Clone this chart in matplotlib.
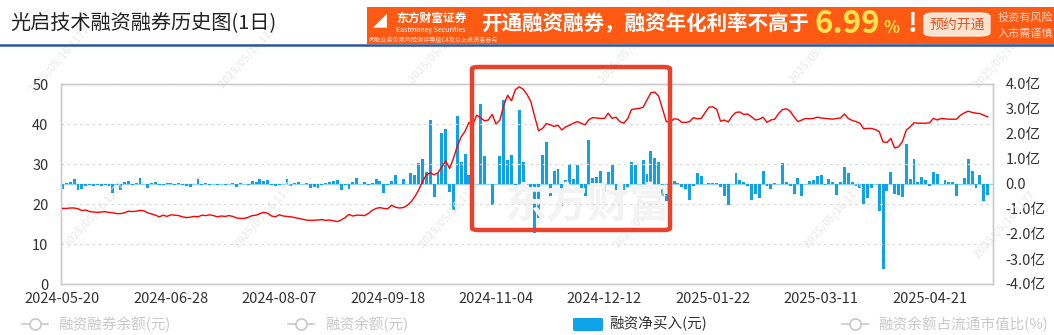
import matplotlib
matplotlib.use('Agg')
import matplotlib.pyplot as plt
from matplotlib.patches import FancyBboxPatch, Rectangle
from matplotlib.lines import Line2D

plt.rcParams['font.family'] = ['Noto Sans CJK SC', 'DejaVu Sans']

# x axis labels (every 28 trading days)
tick_dates = ['2024-05-20', '2024-06-28', '2024-08-07', '2024-09-18', '2024-11-04',
              '2024-12-12', '2025-01-22', '2025-03-11', '2025-04-21']
tick_step = 28

# 融资净买入, 亿元 (right axis)
net_buy = [-0.2, 0.05, 0.08, 0.18, -0.25, -0.2, -0.1, -0.05, -0.08, -0.05,
           -0.1, -0.05, -0.1, -0.35, -0.05, -0.25, 0.08, 0.12, -0.05, 0.05,
           0.25, 0.0, -0.15, 0.03, 0.08, -0.03, -0.03, 0.02, 0.05, -0.05,
           0.04, -0.05, -0.08, -0.12, 0.0, 0.2, -0.05, 0.05, -0.03, -0.02,
           -0.03, -0.02, -0.05, 0.0, 0.03, -0.12, 0.04, -0.02, -0.03, 0.1,
           0.08, 0.18, 0.12, 0.15, -0.05, -0.1, -0.03, 0.0, 0.2, -0.08,
           0.05, 0.08, -0.02, 0.02, -0.18, -0.12, -0.15, -0.05, 0.03, 0.08,
           0.1, 0.15, -0.25, -0.05, -0.22, 0.08, 0.25, 0.0, 0.08, -0.05,
           0.05,
           0.2, 0.1, -0.35, -0.05, 0.1, 0.35, 0.0, 0.2, 0.0, 0.42,
           0.37, 0.85, 1.0, 0.47, 2.55, -0.52, 0.45, 2.05, 2.2, -0.32,
           -1.05, 2.7, 0.87, 1.2, 0.37, 1.4, 0.0, 3.2, 1.13, 0.0,
           -0.85, 0.0, 1.13, 3.37, 0.97, 1.17, -0.03, 2.97, 0.87, 0.0,
           -0.13, -1.98, -1.36, 1.15, 1.68, -0.5, 0.53, 0.61, -0.9, 0.15,
           0.81, 0.21, 0.77, -0.27, -0.5, 1.75, 0.23, 0.27, 0.53, -0.31,
           0.48, 0.75, -0.45, -0.16, -0.27, -0.12, 0.88, 0.77, 0.0, 0.97,
           0.4, 1.31, 1.04, 0.88, -0.5, -0.7, 0.0, 0.13, 0.04, -0.13,
           -0.22, -0.65, -0.1, 0.44, 0.31, 0.0, 0.02, 0.02, 0.04, -0.12,
           -0.5, -0.85, 0.0, 0.43, 0.15, 0.07, -0.1, -0.65, -0.42, -0.55,
           0.52, -0.1, -0.22, 0.02, 0.0, 0.85, 0.08, -0.1, -0.4, 0.22,
           -0.47, 0.0, 0.13, 0.17, 0.3, 0.36, -0.04, 0.18, 0.08, -0.45,
           0.07, 0.66, 0.44, 0.09, -0.09, -0.16, -0.8, -0.55, -0.16, 0.0,
           -1.08, -3.4, -0.29, 0.49, -0.4, -0.45, -0.51, 1.58, 0.2, 1.0,
           0.07, 0.28, 0.14, -0.09, 0.47, 0.39, 0.0, 0.17, 0.07, 0.07,
           -0.49, 0.0, 0.22, 1.0, 0.53, -0.17, 0.34, -0.68, -0.43]

# red line, left axis
balance = [18.9, 18.9, 19.0, 19.0, 18.8, 18.35, 18.5, 18.1, 18.0, 17.9,
           18.0, 18.1, 17.9, 17.8, 17.6, 17.6, 17.8, 18.2, 18.1, 18.2,
           18.4, 18.3, 17.8, 17.5, 17.2, 16.8, 17.2, 16.9, 17.3, 17.2,
           17.1, 16.8, 16.6, 16.7, 16.9, 16.8, 17.2, 17.1, 17.3, 17.1,
           16.8, 17.0, 16.9, 17.1, 16.9, 16.5, 16.4, 16.4, 16.7, 17.1,
           17.2, 17.6, 17.9, 17.7, 17.0, 16.8, 17.3, 17.0, 16.9, 16.8,
           16.6, 16.4, 16.2, 16.0, 15.9, 15.95, 16.0, 16.1, 15.9, 16.0,
           15.8, 15.6, 16.0, 16.6, 17.4, 17.0, 17.2, 17.2, 17.1, 17.6,
           18.4,
           18.9, 19.1, 18.9, 18.8, 19.7, 19.2, 19.0, 19.1, 19.6, 20.5,
           21.8, 23.5, 25.6, 27.3, 27.8, 27.3, 27.8, 29.3, 30.8, 28.9,
           31.4, 34.5, 36.8, 38.2, 40.4, 39.8, 42.2, 41.6, 40.8, 41.0,
           42.4, 40.0, 41.0, 44.7, 47.2, 45.8, 48.6, 49.3, 48.7, 47.4,
           45.6, 41.8, 38.3, 38.9, 40.1, 39.8, 39.4, 39.7, 38.5, 39.3,
           39.7, 40.2, 40.6, 40.2, 39.8, 41.1, 41.6, 41.5, 41.4, 41.4,
           42.7, 41.4, 41.7, 40.6, 40.2, 41.3, 43.6, 43.8, 43.9, 44.2,
           46.0, 47.8, 48.0, 47.0, 43.8, 40.6, 40.5, 41.3, 41.2, 40.4,
           40.4, 40.6, 41.6, 41.3, 41.4, 42.8, 44.2, 44.3, 43.7, 40.7,
           41.0, 40.5, 42.0, 42.9, 43.0, 42.4, 42.5, 41.8, 41.0, 41.2,
           41.7, 40.4, 41.0, 41.2, 42.6, 43.6, 43.8, 43.2, 41.8, 40.6,
           41.0, 41.4, 41.3, 41.4, 41.7, 41.5, 41.4, 41.3, 41.2, 41.4,
           41.5, 42.5, 41.4, 40.9, 40.6, 40.2, 38.8, 38.9, 38.9, 38.6,
           38.1, 35.5, 35.4, 36.4, 34.0, 34.3, 35.6, 38.5, 39.3, 40.3,
           40.2, 40.2, 40.2, 40.3, 41.4, 41.0, 41.4, 41.3, 41.2, 41.2,
           41.2, 42.2, 42.8, 43.2, 42.9, 42.7, 42.6, 42.2, 41.8]

left_ticks = [0, 10, 20, 30, 40, 50]
right_ticks = [4, 3, 2, 1, 0, -1, -2, -3, -4]

W, H = 1054, 335
fig = plt.figure(figsize=(W / 100, H / 100), dpi=100)


def fx(px):
    return px / W


def fy(py):
    return 1 - py / H


# header
fig.text(fx(10), fy(23), '光启技术融资融券历史图(1日)', fontsize=14.5, color='#222222',
         va='center', ha='left')
fig.add_artist(Line2D([0, 1], [fy(44.5), fy(44.5)], color='#2f5597', lw=1.8,
                      transform=fig.transFigure))

# ad banner
fig.add_artist(Rectangle((fx(367), fy(44)), fx(1054 - 367), 37 / H, color='#ff5a14',
                         transform=fig.transFigure, lw=0))
fig.text(fx(373), fy(21), '◢', fontsize=10, color='white', va='center')
fig.text(fx(396), fy(18), '东方财富证券', fontsize=8.5, color='white', va='center', fontweight='bold')
fig.text(fx(396), fy(30), 'Eastmoney Securities', fontsize=5, color='white', va='center')
fig.text(fx(369), fy(40), '两融业务仅限风险测评等级C4及以上投资者参与', fontsize=4.4, color='#ffd9c4',
         va='center')
fig.text(fx(481), fy(24), '开通融资融券，融资年化利率不高于', fontsize=14.8, color='white',
         va='center', fontweight='bold')
fig.text(fx(815), fy(24), '6.99', fontsize=22.5, color='#ffe14d', va='center', fontweight='bold')
fig.text(fx(884), fy(28), '%', fontsize=12, color='#ffe14d', va='center', fontweight='bold')
fig.text(fx(908), fy(24), '!', fontsize=19, color='white', va='center', fontweight='bold')
fig.add_artist(FancyBboxPatch((fx(924), fy(36)), fx(66), 23 / H,
                              boxstyle='round,pad=0,rounding_size=0.01',
                              fc='#fde3cf', ec='#ffffff', lw=0.8, transform=fig.transFigure))
fig.text(fx(957), fy(24.5), '预约开通', fontsize=10, color='#e8501e', va='center', ha='center')
fig.text(fx(998), fy(18), '投资有风险', fontsize=8, color='#ffd3bd', va='center')
fig.text(fx(998), fy(34), '入市需谨慎', fontsize=8, color='#ffd3bd', va='center')

# main axes
ax = fig.add_axes([fx(61), fy(284), fx(993 - 61), 200 / H])
ax2 = ax.twinx()
ax.set_zorder(ax2.get_zorder() + 1)
ax.patch.set_visible(False)

n = len(net_buy)
x = list(range(n))

ax2.axhline(0, color='#8fd4f7', lw=1, zorder=1)
ax2.bar(x, net_buy, width=0.75, color='#0ea2ea', zorder=2)
ax2.set_ylim(-4, 4)
ax2.set_yticks(right_ticks)
ax2.set_yticklabels(['%.1f亿' % v if v != 0 else '0.0' for v in right_ticks])

ax.plot(x, balance, color='#ff0000', lw=1.0, zorder=3)
ax.set_ylim(0, 50)
ax.set_yticks(left_ticks)
ax.grid(axis='y', color='#d9d9d9', ls=(0, (2, 3)), lw=0.9)
ax.set_axisbelow(True)

ax.set_xlim(-0.4, n + 0.4)
ax.set_xticks([i * tick_step for i in range(len(tick_dates))])
ax.set_xticklabels(tick_dates)

for a in (ax, ax2):
    for s in a.spines.values():
        s.set_color('#cccccc')
        s.set_linewidth(1)
    a.tick_params(length=0, labelsize=10.5, labelcolor='#333333')
ax.tick_params(axis='y', pad=9)
ax.tick_params(axis='x', pad=6)
ax2.tick_params(axis='y', pad=9)

# watermarks
for wx, wy in [(60, 60), (250, 55), (440, 50), (630, 50), (820, 50), (1005, 55),
               (95, 215), (265, 215), (450, 215), (645, 215), (835, 215), (1005, 225)]:
    fig.text(fx(wx), fy(wy), '2025/05/16 1177', fontsize=8, color='#e8e8e8',
             rotation=48, ha='center', va='center', zorder=0)
ax.text(0.565, 0.4, '东方财富', transform=ax.transAxes, fontsize=30, color='#f3f3f3',
        fontweight='bold', ha='center', va='center', zorder=0)

# highlight box
fig.add_artist(FancyBboxPatch((fx(472), fy(230)), fx(670 - 472), (230 - 67) / H,
                              boxstyle='round,pad=0,rounding_size=0.006',
                              fc='none', ec='#e8412c', lw=3.2, transform=fig.transFigure,
                              zorder=10))

# legend
ly = fy(324)
grey = '#c8c8c8'
for x0, x1, tx, label in [(22, 48, 58, '融资融券余额(元)'), (288, 314, 325, '融资余额(元)'),
                           (842, 868, 878, '融资余额占流通市值比(%)')]:
    fig.add_artist(Line2D([fx(x0), fx(x1)], [ly, ly], color=grey, lw=1.2,
                          transform=fig.transFigure))
    fig.add_artist(Line2D([fx((x0 + x1) / 2)], [ly], marker='o', ms=8, mfc='white',
                          mec=grey, mew=1.2, transform=fig.transFigure))
    fig.text(fx(tx), ly, label, fontsize=10.5, color=grey, va='center', ha='left')
fig.add_artist(FancyBboxPatch((fx(573), fy(331)), fx(30), 13 / H,
                              boxstyle='round,pad=0,rounding_size=0.003',
                              fc='#0ea2ea', ec='none', transform=fig.transFigure))
fig.text(fx(609), ly, '融资净买入(元)', fontsize=10.5, color='#333333', va='center', ha='left')

fig.savefig('out.png', dpi=100)
